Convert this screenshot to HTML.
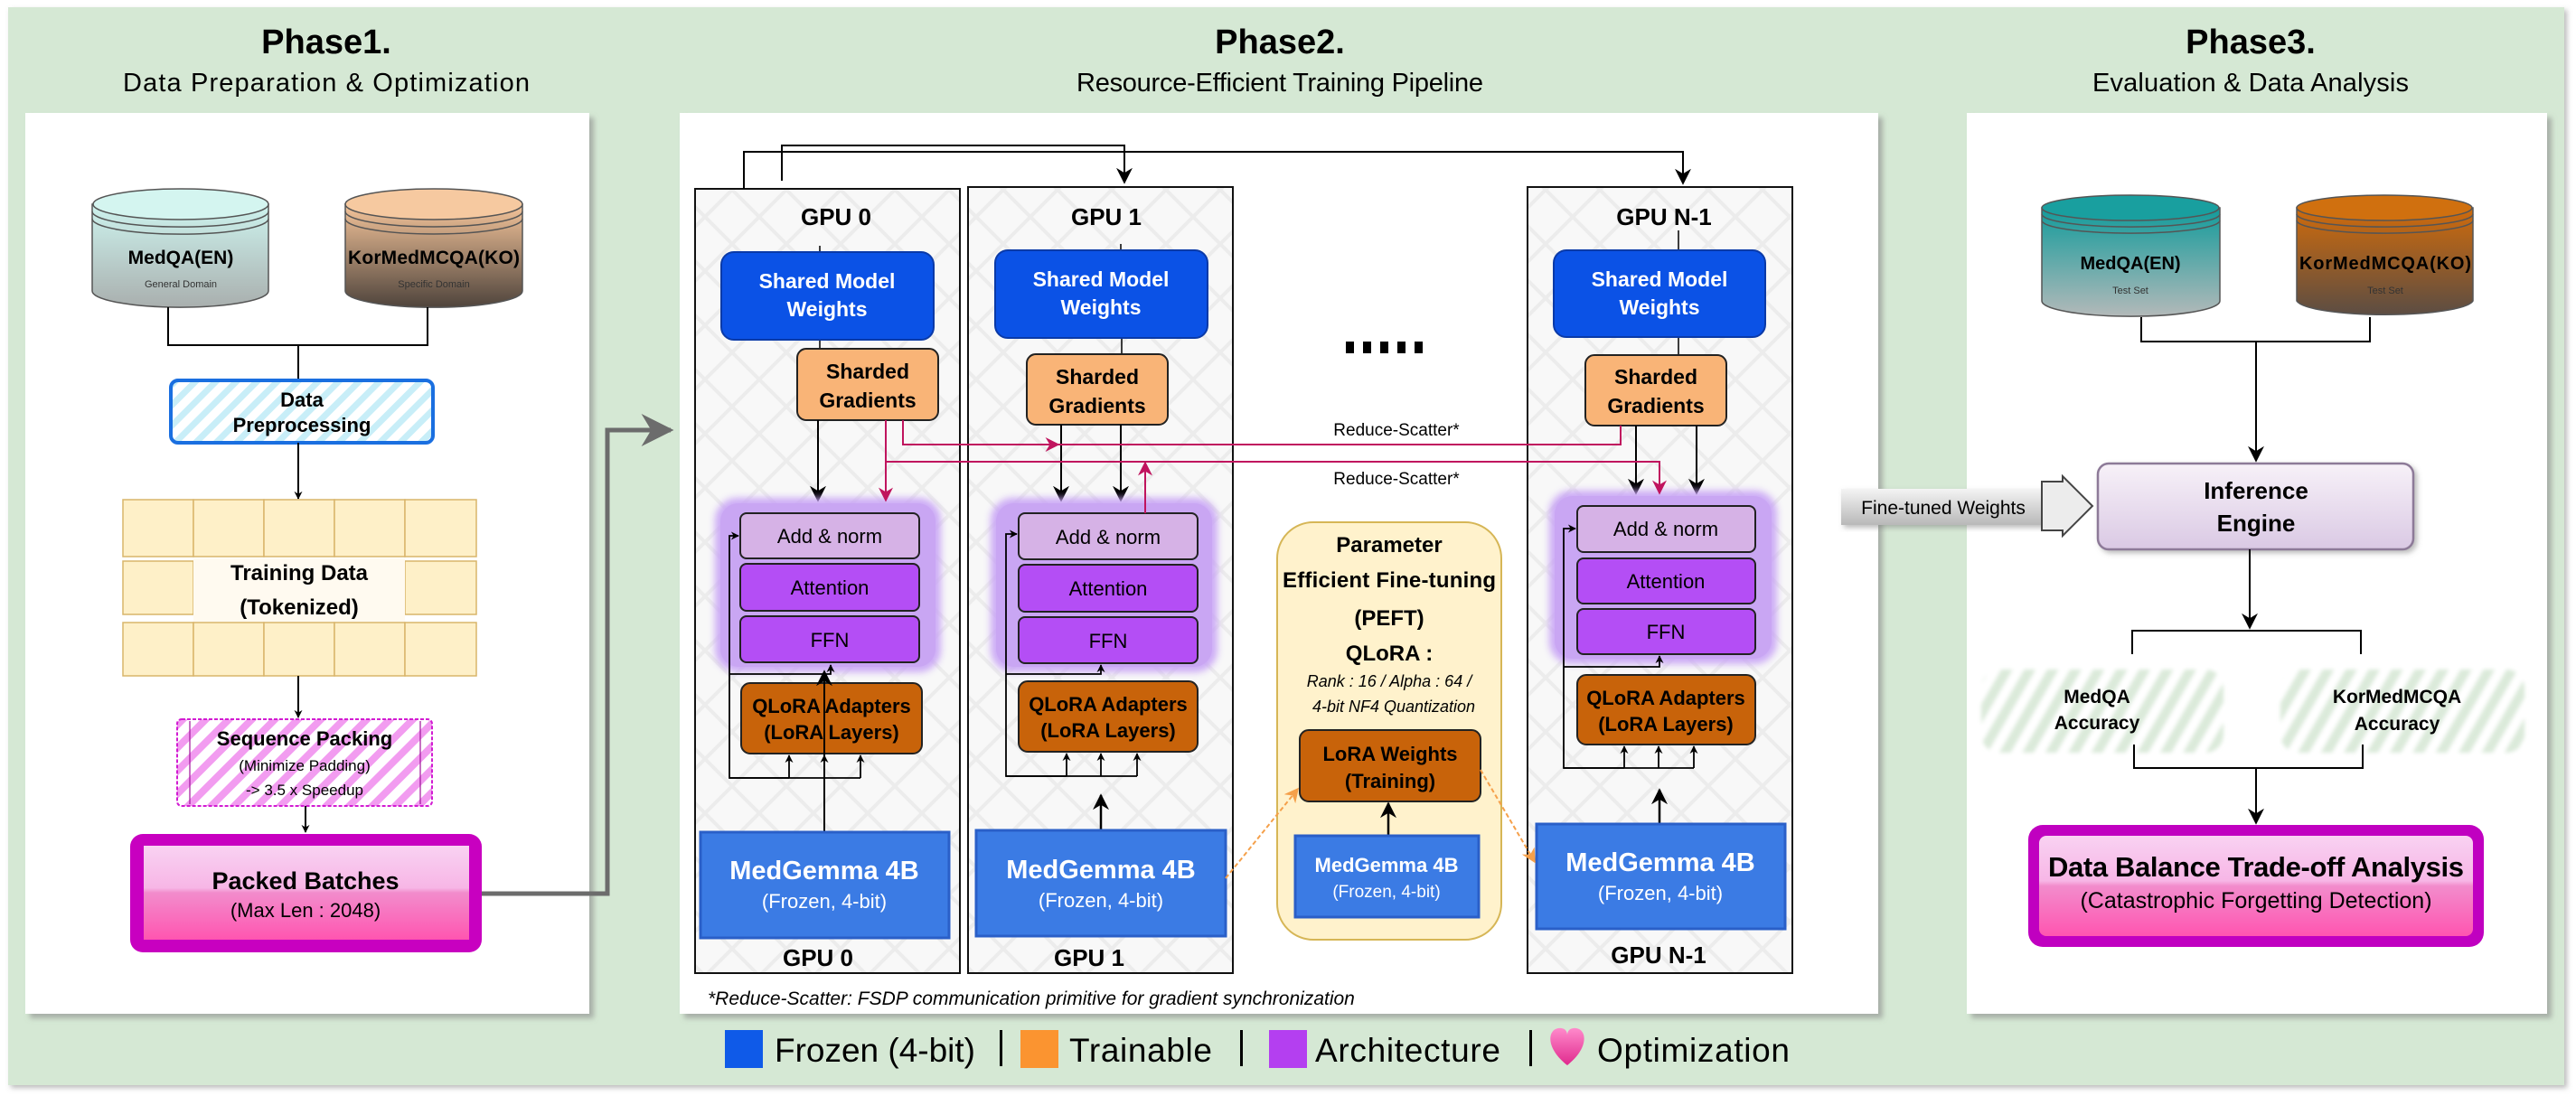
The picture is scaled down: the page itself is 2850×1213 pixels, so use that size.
<!DOCTYPE html>
<html><head><meta charset="utf-8"><style>
html,body{margin:0;padding:0;background:#fff;}
svg{display:block;}
text{font-family:"Liberation Sans",Arial,sans-serif;}
</style></head><body>
<svg width="2850" height="1213" viewBox="0 0 2850 1213" xmlns="http://www.w3.org/2000/svg">
<defs>
<filter id="sh" x="-5%" y="-5%" width="115%" height="115%"><feDropShadow dx="5" dy="5" stdDeviation="3" flood-color="#888" flood-opacity="0.6"/></filter>
<filter id="sh2" x="-10%" y="-10%" width="130%" height="130%"><feDropShadow dx="3" dy="3" stdDeviation="3" flood-color="#777" flood-opacity="0.5"/></filter>
<filter id="glow" x="-10%" y="-10%" width="120%" height="120%"><feGaussianBlur stdDeviation="4"/></filter>
<filter id="soft"><feGaussianBlur stdDeviation="2"/></filter>
<pattern id="diam" width="60" height="60" patternUnits="userSpaceOnUse">
<rect width="60" height="60" fill="#f8f8f8"/>
<path d="M0 0L60 60M60 0L0 60" stroke="#ececec" stroke-width="4"/>
</pattern>
<pattern id="bluestripe" width="16" height="16" patternUnits="userSpaceOnUse" patternTransform="rotate(45)">
<rect width="16" height="16" fill="#fff"/><rect width="7" height="16" fill="#c8eef8"/>
</pattern>
<pattern id="pinkstripe" width="18" height="18" patternUnits="userSpaceOnUse" patternTransform="rotate(45)">
<rect width="18" height="18" fill="#fff"/><rect width="8" height="18" fill="#f29cf0"/>
</pattern>
<pattern id="greenstripe" width="22" height="22" patternUnits="userSpaceOnUse" patternTransform="rotate(30)">
<rect width="22" height="22" fill="#fff"/><rect width="11" height="22" fill="#dbeada"/>
</pattern>
<linearGradient id="cyl1" x1="0" y1="0" x2="0" y2="1"><stop offset="0" stop-color="#cdf3ee"/><stop offset="1" stop-color="#a9afae"/></linearGradient>
<linearGradient id="cyl2" x1="0" y1="0" x2="0" y2="1"><stop offset="0" stop-color="#f4c49a"/><stop offset="1" stop-color="#4f443c"/></linearGradient>
<linearGradient id="cyl3" x1="0" y1="0" x2="0" y2="1"><stop offset="0" stop-color="#139b9b"/><stop offset="1" stop-color="#b3b9b9"/></linearGradient>
<linearGradient id="cyl4" x1="0" y1="0" x2="0" y2="1"><stop offset="0" stop-color="#cf6b0c"/><stop offset="1" stop-color="#5c4d43"/></linearGradient>
<linearGradient id="pink" x1="0" y1="0" x2="0" y2="1"><stop offset="0" stop-color="#f9d2f2"/><stop offset="0.45" stop-color="#f7b6e6"/><stop offset="0.5" stop-color="#f28ccc"/><stop offset="1" stop-color="#ff55b0"/></linearGradient>
<linearGradient id="inf" x1="0" y1="0" x2="0" y2="1"><stop offset="0" stop-color="#f7f1f8"/><stop offset="1" stop-color="#dac9e4"/></linearGradient>
<linearGradient id="ftw" x1="0" y1="0" x2="0" y2="1"><stop offset="0" stop-color="#f4f4f4"/><stop offset="1" stop-color="#b8b8b8"/></linearGradient>
<linearGradient id="heart" x1="0" y1="0" x2="0" y2="1"><stop offset="0" stop-color="#ff8acb"/><stop offset="1" stop-color="#e02a8e"/></linearGradient>
<marker id="ab" viewBox="0 0 10 10" refX="9" refY="5" markerWidth="9" markerHeight="9" orient="auto-start-reverse" markerUnits="userSpaceOnUse"><path d="M0 0L10 5L0 10L3 5z" fill="#000"/></marker>
<marker id="abL" viewBox="0 0 10 10" refX="9" refY="5" markerWidth="18" markerHeight="18" orient="auto" markerUnits="userSpaceOnUse"><path d="M0 0L10 5L0 10L3 5z" fill="#000"/></marker>
<marker id="am" viewBox="0 0 10 10" refX="9" refY="5" markerWidth="16" markerHeight="16" orient="auto" markerUnits="userSpaceOnUse"><path d="M0 0L10 5L0 10L3 5z" fill="#c0145e"/></marker>
<marker id="ao" viewBox="0 0 10 10" refX="9" refY="5" markerWidth="16" markerHeight="16" orient="auto" markerUnits="userSpaceOnUse"><path d="M0 0L10 5L0 10L3 5z" fill="#f5a04a"/></marker>
<marker id="ag" viewBox="0 0 10 10" refX="9" refY="5" markerWidth="36" markerHeight="36" orient="auto" markerUnits="userSpaceOnUse"><path d="M0 0L10 5L0 10L3 5z" fill="#6c6c6c"/></marker>
</defs>

<rect x="9" y="8" width="2828" height="1193" fill="#d5e8d4" filter="url(#sh2)"/>

<text x="361" y="59" font-size="38" font-weight="bold" text-anchor="middle">Phase1.</text>
<text x="361" y="101" font-size="29" text-anchor="middle" textLength="450">Data Preparation &amp; Optimization</text>
<text x="1416" y="59" font-size="38" font-weight="bold" text-anchor="middle">Phase2.</text>
<text x="1416" y="101" font-size="29" text-anchor="middle" textLength="450">Resource-Efficient Training Pipeline</text>
<text x="2490" y="59" font-size="38" font-weight="bold" text-anchor="middle">Phase3.</text>
<text x="2490" y="101" font-size="29" text-anchor="middle" textLength="350">Evaluation &amp; Data Analysis</text>

<rect x="28" y="125" width="624" height="997" fill="#fff" filter="url(#sh)"/>
<rect x="752" y="125" width="1326" height="997" fill="#fff" filter="url(#sh)"/>
<rect x="2176" y="125" width="642" height="997" fill="#fff" filter="url(#sh)"/>

<!-- Phase 1 -->
<g stroke="#555" stroke-width="1.5">
<path d="M102 226 L102 322 A97 18 0 0 0 297 322 L297 226 Z" fill="url(#cyl1)"/>
<ellipse cx="200" cy="226" rx="97" ry="17" fill="#d4f5f0"/>
<path d="M102 234 A97 17 0 0 0 297 234 M102 242 A97 17 0 0 0 297 242" fill="none"/>
<path d="M382 226 L382 322 A97 18 0 0 0 578 322 L578 226 Z" fill="url(#cyl2)"/>
<ellipse cx="480" cy="226" rx="98" ry="17" fill="#f6c9a0"/>
<path d="M382 234 A98 17 0 0 0 578 234 M382 242 A98 17 0 0 0 578 242" fill="none"/>
</g>
<text x="200" y="292" font-size="21" font-weight="bold" text-anchor="middle">MedQA(EN)</text>
<text x="200" y="318" font-size="11" text-anchor="middle" fill="#333">General Domain</text>
<text x="480" y="292" font-size="21" font-weight="bold" text-anchor="middle" textLength="190">KorMedMCQA(KO)</text>
<text x="480" y="318" font-size="11" text-anchor="middle" fill="#333">Specific Domain</text>
<path d="M186 340V382H473V340M330 382V421" stroke="#000" stroke-width="2" fill="none"/>
<rect x="189" y="421" width="290" height="69" rx="8" fill="url(#bluestripe)" stroke="#1a6fe0" stroke-width="4"/>
<text x="334" y="450" font-size="22" font-weight="bold" text-anchor="middle">Data</text>
<text x="334" y="478" font-size="22" font-weight="bold" text-anchor="middle">Preprocessing</text>
<line x1="330" y1="490" x2="330" y2="552" stroke="#000" stroke-width="2" marker-end="url(#ab)"/>
<g fill="#fef0c8" stroke="#d9b56a" stroke-width="1.5">
<rect x="136" y="553" width="78" height="63"/><rect x="214" y="553" width="78" height="63"/><rect x="292" y="553" width="78" height="63"/><rect x="370" y="553" width="78" height="63"/><rect x="448" y="553" width="79" height="63"/>
<rect x="136" y="621" width="78" height="59"/><rect x="448" y="621" width="79" height="59"/>
<rect x="136" y="689" width="78" height="59"/><rect x="214" y="689" width="78" height="59"/><rect x="292" y="689" width="78" height="59"/><rect x="370" y="689" width="78" height="59"/><rect x="448" y="689" width="79" height="59"/>
</g>
<rect x="214" y="618" width="234" height="70" fill="#fffaf0"/>
<text x="331" y="642" font-size="24" font-weight="bold" text-anchor="middle">Training Data</text>
<text x="331" y="680" font-size="24" font-weight="bold" text-anchor="middle">(Tokenized)</text>
<line x1="330" y1="748" x2="330" y2="794" stroke="#000" stroke-width="2" marker-end="url(#ab)"/>
<rect x="196" y="796" width="282" height="96" rx="5" fill="url(#pinkstripe)" stroke="#d21cd2" stroke-width="2" stroke-dasharray="4 2"/>
<line x1="210" y1="798" x2="210" y2="890" stroke="#a0109a" stroke-width="1.2"/>
<line x1="465" y1="798" x2="465" y2="890" stroke="#a0109a" stroke-width="1.2"/>
<text x="337" y="825" font-size="22" font-weight="bold" text-anchor="middle">Sequence Packing</text>
<text x="337" y="853" font-size="17" text-anchor="middle">(Minimize Padding)</text>
<text x="337" y="880" font-size="17" text-anchor="middle">-&gt; 3.5 x Speedup</text>
<line x1="338" y1="892" x2="338" y2="921" stroke="#000" stroke-width="2" marker-end="url(#ab)"/>
<rect x="144" y="923" width="389" height="131" rx="14" fill="#c800c0"/>
<rect x="159" y="936" width="360" height="104" fill="url(#pink)"/>
<text x="338" y="984" font-size="27" font-weight="bold" text-anchor="middle">Packed Batches</text>
<text x="338" y="1015" font-size="22" text-anchor="middle">(Max Len : 2048)</text>
<path d="M533 989H672V476H742" stroke="#6c6c6c" stroke-width="5" fill="none" marker-end="url(#ag)"/>

<!-- Phase 2 -->
<rect x="769" y="209" width="293" height="868" fill="url(#diam)" stroke="#111" stroke-width="2"/>
<rect x="1071" y="207" width="293" height="870" fill="url(#diam)" stroke="#111" stroke-width="2"/>
<rect x="1690" y="207" width="293" height="870" fill="url(#diam)" stroke="#111" stroke-width="2"/>
<path d="M823 209V168H1862V203" stroke="#000" stroke-width="2" fill="none" marker-end="url(#abL)"/>
<path d="M865 200V161H1244V202" stroke="#000" stroke-width="2" fill="none" marker-end="url(#abL)"/>

<g font-weight="bold" text-anchor="middle" font-size="26">
<text x="925" y="249">GPU 0</text><text x="1224" y="249">GPU 1</text><text x="1841" y="249">GPU N-1</text>
<text x="905" y="1069">GPU 0</text><text x="1205" y="1069">GPU 1</text><text x="1835" y="1066">GPU N-1</text>
</g>
<g stroke="#000" stroke-width="1.5">
<line x1="907" y1="272" x2="907" y2="280"/><line x1="1240" y1="270" x2="1240" y2="278"/><line x1="1857" y1="255" x2="1857" y2="278"/>
<line x1="907" y1="376" x2="907" y2="386"/><line x1="1241" y1="374" x2="1241" y2="392"/><line x1="1857" y1="373" x2="1857" y2="393"/>
</g>
<g fill="#0b52e6" stroke="#0a3aa8" stroke-width="2">
<rect x="798" y="279" width="235" height="97" rx="14"/>
<rect x="1101" y="277" width="235" height="97" rx="14"/>
<rect x="1719" y="277" width="234" height="96" rx="14"/>
</g>
<g fill="#fff" font-weight="bold" font-size="23" text-anchor="middle">
<text x="915" y="319">Shared Model</text><text x="915" y="350">Weights</text>
<text x="1218" y="317">Shared Model</text><text x="1218" y="348">Weights</text>
<text x="1836" y="317">Shared Model</text><text x="1836" y="348">Weights</text>
</g>
<g fill="#f9b477" stroke="#222" stroke-width="2">
<rect x="882" y="386" width="156" height="79" rx="10"/>
<rect x="1136" y="392" width="156" height="78" rx="10"/>
<rect x="1754" y="393" width="156" height="78" rx="10"/>
</g>
<g font-weight="bold" font-size="23" text-anchor="middle">
<text x="960" y="419">Sharded</text><text x="960" y="451">Gradients</text>
<text x="1214" y="425">Sharded</text><text x="1214" y="457">Gradients</text>
<text x="1832" y="425">Sharded</text><text x="1832" y="457">Gradients</text>
</g>
<g stroke="#000" stroke-width="2" marker-end="url(#abL)">
<line x1="905" y1="465" x2="905" y2="554"/>
<line x1="1174" y1="470" x2="1174" y2="554"/>
<line x1="1240" y1="470" x2="1240" y2="554"/>
<line x1="1810" y1="471" x2="1810" y2="546"/>
<line x1="1877" y1="471" x2="1877" y2="546"/>
</g>
<g fill="#c7a3f5" stroke="#c7a3f5" stroke-width="6" opacity="0.9">
<rect x="794" y="554" width="244" height="187" rx="22" filter="url(#glow)"/>
<rect x="1099" y="554" width="245" height="187" rx="22" filter="url(#glow)"/>
<rect x="1717" y="546" width="246" height="186" rx="22" filter="url(#glow)"/>
</g>
<g fill="#c9a6f3">
<rect x="797" y="557" width="238" height="181" rx="20"/>
<rect x="1102" y="557" width="239" height="181" rx="20"/>
<rect x="1720" y="549" width="240" height="180" rx="20"/>
</g>
<g stroke="#222" stroke-width="2">
<rect x="819" y="568" width="198" height="50" rx="7" fill="#d6b2e6"/>
<rect x="819" y="624" width="198" height="52" rx="7" fill="#b44ef5"/>
<rect x="819" y="682" width="198" height="51" rx="7" fill="#b44ef5"/>
<rect x="1127" y="568" width="198" height="51" rx="7" fill="#d6b2e6"/>
<rect x="1127" y="625" width="198" height="52" rx="7" fill="#b44ef5"/>
<rect x="1127" y="683" width="198" height="51" rx="7" fill="#b44ef5"/>
<rect x="1745" y="560" width="197" height="51" rx="7" fill="#d6b2e6"/>
<rect x="1745" y="618" width="197" height="50" rx="7" fill="#b44ef5"/>
<rect x="1745" y="674" width="197" height="50" rx="7" fill="#b44ef5"/>
</g>
<g font-size="22" text-anchor="middle">
<text x="918" y="601">Add &amp; norm</text><text x="918" y="658">Attention</text><text x="918" y="716">FFN</text>
<text x="1226" y="602">Add &amp; norm</text><text x="1226" y="659">Attention</text><text x="1226" y="717">FFN</text>
<text x="1843" y="593">Add &amp; norm</text><text x="1843" y="651">Attention</text><text x="1843" y="707">FFN</text>
</g>
<g stroke="#c0145e" stroke-width="2" fill="none">
<path d="M999 465V492H1171" marker-end="url(#am)"/>
<path d="M1171 492H1793V471"/>
<path d="M980 465V554" marker-end="url(#am)"/>
<path d="M980 511H1836V546" marker-end="url(#am)"/>
<path d="M1267 568V512" marker-end="url(#am)"/>
</g>
<text x="1545" y="482" font-size="19" text-anchor="middle">Reduce-Scatter*</text>
<text x="1545" y="536" font-size="19" text-anchor="middle">Reduce-Scatter*</text>
<g fill="#000"><rect x="1489" y="378" width="9" height="13"/><rect x="1508" y="378" width="9" height="13"/><rect x="1527" y="378" width="9" height="13"/><rect x="1546" y="378" width="9" height="13"/><rect x="1565" y="378" width="9" height="13"/></g>
<g fill="#c8630a" stroke="#222" stroke-width="2">
<rect x="820" y="756" width="200" height="78" rx="10"/>
<rect x="1127" y="754" width="198" height="78" rx="10"/>
<rect x="1745" y="747" width="197" height="77" rx="10"/>
</g>
<g font-weight="bold" font-size="22" text-anchor="middle">
<text x="920" y="789">QLoRA Adapters</text><text x="920" y="818">(LoRA Layers)</text>
<text x="1226" y="787">QLoRA Adapters</text><text x="1226" y="816">(LoRA Layers)</text>
<text x="1843" y="780">QLoRA Adapters</text><text x="1843" y="809">(LoRA Layers)</text>
</g>
<g stroke="#000" stroke-width="1.8" fill="none">
<path d="M873 861H807V593H817" marker-end="url(#ab)"/>
<path d="M807 861H952"/>
<path d="M807 746H919V736" marker-end="url(#ab)"/>
<path d="M1180 859H1113V591H1125" marker-end="url(#ab)"/>
<path d="M1113 859H1258"/>
<path d="M1113 746H1218V736" marker-end="url(#ab)"/>
<path d="M1797 850H1730V585H1743" marker-end="url(#ab)"/>
<path d="M1730 850H1874"/>
<path d="M1730 738H1836V726" marker-end="url(#ab)"/>
</g>
<g stroke="#000" stroke-width="1.8" marker-end="url(#ab)">
<line x1="873" y1="861" x2="873" y2="836"/><line x1="912" y1="861" x2="912" y2="836"/><line x1="952" y1="861" x2="952" y2="836"/>
<line x1="1180" y1="859" x2="1180" y2="834"/><line x1="1218" y1="859" x2="1218" y2="834"/><line x1="1258" y1="859" x2="1258" y2="834"/>
<line x1="1797" y1="850" x2="1797" y2="826"/><line x1="1835" y1="850" x2="1835" y2="826"/><line x1="1874" y1="850" x2="1874" y2="826"/>
</g>
<line x1="912" y1="921" x2="912" y2="743" stroke="#000" stroke-width="2" marker-end="url(#abL)"/>
<line x1="1218" y1="919" x2="1218" y2="880" stroke="#000" stroke-width="2.5" marker-end="url(#abL)"/>
<line x1="1836" y1="912" x2="1836" y2="874" stroke="#000" stroke-width="2.5" marker-end="url(#abL)"/>
<rect x="1413" y="578" width="248" height="462" rx="40" fill="#fff2cc" stroke="#d6b656" stroke-width="2"/>
<g font-weight="bold" text-anchor="middle" font-size="24">
<text x="1537" y="611">Parameter</text><text x="1537" y="650" textLength="236">Efficient Fine-tuning</text><text x="1537" y="692">(PEFT)</text><text x="1537" y="731">QLoRA :</text>
</g>
<text x="1537" y="760" font-size="18" font-style="italic" text-anchor="middle">Rank : 16 / Alpha : 64 /</text>
<text x="1542" y="788" font-size="18" font-style="italic" text-anchor="middle">4-bit NF4 Quantization</text>
<rect x="1438" y="808" width="200" height="79" rx="10" fill="#c8630a" stroke="#222" stroke-width="2"/>
<text x="1538" y="842" font-size="22" font-weight="bold" text-anchor="middle">LoRA Weights</text>
<text x="1538" y="872" font-size="22" font-weight="bold" text-anchor="middle">(Training)</text>
<line x1="1536" y1="925" x2="1536" y2="889" stroke="#000" stroke-width="2.5" marker-end="url(#abL)"/>
<g fill="#3b7be4" stroke="#2a5fc8" stroke-width="3">
<rect x="775" y="921" width="275" height="117"/>
<rect x="1080" y="919" width="276" height="117"/>
<rect x="1433" y="925" width="203" height="90"/>
<rect x="1700" y="912" width="275" height="116"/>
</g>
<g fill="#fff" text-anchor="middle">
<text x="912" y="973" font-size="29" font-weight="bold">MedGemma 4B</text><text x="912" y="1005" font-size="22">(Frozen, 4-bit)</text>
<text x="1218" y="972" font-size="29" font-weight="bold">MedGemma 4B</text><text x="1218" y="1004" font-size="22">(Frozen, 4-bit)</text>
<text x="1534" y="965" font-size="22" font-weight="bold">MedGemma 4B</text><text x="1534" y="993" font-size="19">(Frozen, 4-bit)</text>
<text x="1837" y="964" font-size="29" font-weight="bold">MedGemma 4B</text><text x="1837" y="996" font-size="22">(Frozen, 4-bit)</text>
</g>
<g stroke="#f5a04a" stroke-width="2" stroke-dasharray="5 3" fill="none">
<path d="M1356 972L1436 873" marker-end="url(#ao)"/>
<path d="M1638 852L1698 954" marker-end="url(#ao)"/>
</g>
<text x="783" y="1112" font-size="21" font-style="italic">*Reduce-Scatter: FSDP communication primitive for gradient synchronization</text>
<!-- legend -->
<rect x="802" y="1140" width="42" height="42" fill="#0f5ae8"/>
<text x="857" y="1175" font-size="37" textLength="222">Frozen (4-bit)</text>
<rect x="1106" y="1140" width="3" height="40" fill="#000"/>
<rect x="1129" y="1140" width="42" height="42" fill="#fb9430"/>
<text x="1183" y="1175" font-size="37" textLength="158">Trainable</text>
<rect x="1372" y="1140" width="3" height="40" fill="#000"/>
<rect x="1404" y="1140" width="42" height="42" fill="#b43ff0"/>
<text x="1455" y="1175" font-size="37" textLength="205">Architecture</text>
<rect x="1692" y="1140" width="3" height="40" fill="#000"/>
<path d="M1734 1179 C1710 1160 1712 1140 1724 1138 C1732 1137 1734 1142 1734 1146 C1734 1142 1736 1137 1744 1138 C1756 1140 1758 1160 1734 1179Z" fill="url(#heart)"/>
<text x="1767" y="1175" font-size="37" textLength="213">Optimization</text>

<!-- Phase 3 -->
<g stroke="#555" stroke-width="1.5">
<path d="M2259 230 L2259 333 A98 17 0 0 0 2456 333 L2456 230 Z" fill="url(#cyl3)"/>
<ellipse cx="2357" cy="230" rx="98" ry="14" fill="#199f9f"/>
<path d="M2259 237 A98 14 0 0 0 2456 237 M2259 244 A98 14 0 0 0 2456 244" fill="none"/>
<path d="M2541 230 L2541 333 A98 17 0 0 0 2736 333 L2736 230 Z" fill="url(#cyl4)"/>
<ellipse cx="2638" cy="230" rx="97" ry="14" fill="#d0700f"/>
<path d="M2541 237 A97 14 0 0 0 2736 237 M2541 244 A97 14 0 0 0 2736 244" fill="none"/>
</g>
<text x="2357" y="298" font-size="20" font-weight="bold" text-anchor="middle">MedQA(EN)</text>
<text x="2357" y="325" font-size="11" text-anchor="middle" fill="#333">Test Set</text>
<text x="2639" y="298" font-size="20" font-weight="bold" text-anchor="middle" textLength="190">KorMedMCQA(KO)</text>
<text x="2639" y="325" font-size="11" text-anchor="middle" fill="#333">Test Set</text>
<path d="M2369 351V378H2622V351M2496 378V510" stroke="#000" stroke-width="2" fill="none" marker-end="url(#abL)"/>
<rect x="2037" y="541" width="225" height="40" fill="url(#ftw)" filter="url(#sh2)"/>
<path d="M2259 533H2282V527L2315 560L2282 593V587H2259Z" fill="#ececec" stroke="#444" stroke-width="2"/>
<text x="2150" y="569" font-size="21" text-anchor="middle">Fine-tuned Weights</text>
<rect x="2321" y="513" width="349" height="95" rx="12" fill="url(#inf)" stroke="#8d7a98" stroke-width="2.5" filter="url(#sh2)"/>
<text x="2496" y="552" font-size="26" font-weight="bold" text-anchor="middle">Inference</text>
<text x="2496" y="588" font-size="26" font-weight="bold" text-anchor="middle">Engine</text>
<line x1="2489" y1="608" x2="2489" y2="695" stroke="#000" stroke-width="2" marker-end="url(#abL)"/>
<path d="M2359 724V698H2612V724" stroke="#000" stroke-width="2" fill="none"/>
<rect x="2192" y="741" width="268" height="92" rx="20" fill="url(#greenstripe)" filter="url(#soft)"/>
<rect x="2523" y="741" width="270" height="92" rx="20" fill="url(#greenstripe)" filter="url(#soft)"/>
<text x="2320" y="778" font-size="21" font-weight="bold" text-anchor="middle">MedQA</text>
<text x="2320" y="807" font-size="21" font-weight="bold" text-anchor="middle">Accuracy</text>
<text x="2652" y="778" font-size="21" font-weight="bold" text-anchor="middle">KorMedMCQA</text>
<text x="2652" y="808" font-size="21" font-weight="bold" text-anchor="middle">Accuracy</text>
<path d="M2361 824V850H2614V824M2496 850V911" stroke="#000" stroke-width="2" fill="none" marker-end="url(#abL)"/>
<rect x="2244" y="913" width="504" height="135" rx="16" fill="#c000c0"/>
<rect x="2256" y="925" width="480" height="111" rx="8" fill="url(#pink)"/>
<text x="2496" y="970" font-size="31" font-weight="bold" text-anchor="middle" textLength="460">Data Balance Trade-off Analysis</text>
<text x="2496" y="1005" font-size="25" text-anchor="middle">(Catastrophic Forgetting Detection)</text>
</svg>
</body></html>
